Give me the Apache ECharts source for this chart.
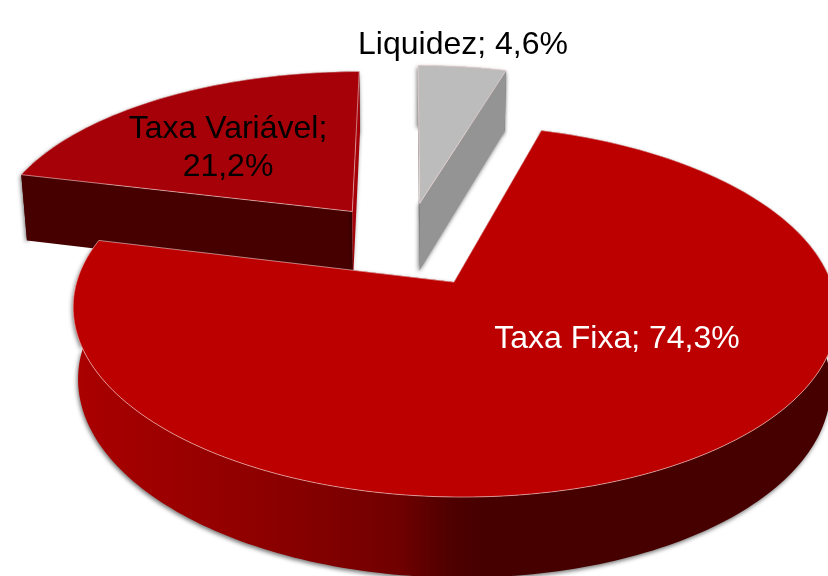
<!DOCTYPE html>
<html>
<head>
<meta charset="utf-8">
<style>
    html, body { margin: 0; padding: 0; background: #fff; }
    #chart { width: 828px; height: 576px; }
</style>
<script src="https://cdn.jsdelivr.net/npm/echarts@6/dist/echarts.min.js"></script>
</head>
<body>
<div id="chart"></div>
<script>
// slices in clockwise order starting at 12 o'clock
const categories = ['Liquidez', 'Taxa Fixa', 'Taxa Variável']
const shares = [4.6, 74.3, 21.2]

// projection of the tilted disc
const CX = 407, CY = 244
const RX = 365, RY = 170
const PERSPECTIVE = 0.15
const THICKNESS = 70
const BOTTOM_SHRINK = 0.015
const EXPLODE = 0.25

const wallFixa = () => new echarts.graphic.LinearGradient(75, 0, 480, 0, [
    { offset: 0, color: '#aa0000' },
    { offset: 0.43, color: '#900000' },
    { offset: 0.63, color: '#800000' },
    { offset: 0.8, color: '#700000' },
    { offset: 0.92, color: '#500000' },
    { offset: 1, color: '#470000' },
], true)

const looks = [
    { top: '#bcbcbc', wall: '#949494', faceStart: '#8c8c8c', faceEnd: '#949494', textColor: '#000', labelX: 463, labelY: 45 },
    { top: '#bc0000', wall: wallFixa(), faceStart: '#470000', faceEnd: '#470000', textColor: '#fff', labelX: 617, labelY: 339 },
    { top: '#a60008', wall: '#470000', faceStart: '#470000', faceEnd: '#a60008', textColor: '#000', labelX: 228, labelY: 148 },
]

const total = shares.reduce((a, b) => a + b, 0)
const toRad = share => share / total * Math.PI * 2

const project = (x, y, down) => {
    const w = (1 + PERSPECTIVE * y) * (1 + (down ? BOTTOM_SHRINK : 0))
    return [
        CX + RX * x / w,
        CY - RY * y / w + (down ? THICKNESS / w : 0),
    ]
}

const labelText = (name, share) => {
    const value = share.toFixed(1).replace('.', ',') + '%'
    return name === 'Taxa Variável' ? `${name};\n${value}` : `${name}; ${value}`
}

const renderSlice = (params, api) => {
    const i = params.dataIndex
    const share = api.value(0)
    const start = toRad(shares.slice(0, i).reduce((a, b) => a + b, 0))
    const end = start + toRad(share)
    const mid = (start + end) / 2
    const ox = Math.sin(mid) * EXPLODE
    const oy = Math.cos(mid) * EXPLODE
    const look = looks[i]

    // nearer slices paint over farther ones
    const depth = Math.round(-oy * 100) * 10

    const arc = down => {
        const pts = []
        const steps = Math.ceil((end - start) / 0.02)
        for (let s = 0; s <= steps; s++) {
            const t = start + (end - start) * s / steps
            pts.push(project(ox + Math.sin(t), oy + Math.cos(t), down))
        }
        return pts
    }
    const topArc = arc(false)
    const bottomArc = arc(true)
    const apexTop = project(ox, oy, false)
    const apexBottom = project(ox, oy, true)
    const shadow = {
        shadowBlur: 4,
        shadowColor: 'rgba(0,0,0,0.55)',
        shadowOffsetX: -1,
        shadowOffsetY: 2,
    }

    return {
        type: 'group',
        children: [
            {
                type: 'polygon',
                z2: depth,
                shape: { points: topArc.concat(bottomArc.slice().reverse()) },
                style: { fill: look.wall, ...shadow },
            },
            {
                type: 'polygon',
                z2: depth + 1,
                shape: { points: [apexTop, topArc[0], bottomArc[0], apexBottom] },
                style: { fill: look.faceStart },
            },
            {
                type: 'polygon',
                z2: depth + 1,
                shape: { points: [apexTop, topArc[topArc.length - 1], bottomArc[bottomArc.length - 1], apexBottom] },
                style: { fill: look.faceEnd, ...shadow },
            },
            {
                type: 'polygon',
                z2: depth + 2,
                shape: { points: [apexTop].concat(topArc) },
                style: { fill: look.top, stroke: 'rgba(255,225,225,0.7)', lineWidth: 0.8 },
            },
            {
                type: 'text',
                z2: 1000,
                style: {
                    text: labelText(categories[i], share),
                    x: look.labelX,
                    y: look.labelY,
                    align: 'center',
                    verticalAlign: 'middle',
                    fill: look.textColor,
                    font: '32px "Liberation Sans", Arial, sans-serif',
                    lineHeight: 38,
                },
            },
        ],
    }
}

const chart = echarts.init(document.getElementById('chart'))
chart.setOption({
    animation: false,
    backgroundColor: '#fff',
    series: [
        {
            type: 'custom',
            coordinateSystem: 'none',
            renderItem: renderSlice,
            silent: true,
            clip: false,
            data: shares.map((share, i) => ({ name: categories[i], value: [share] })),
        },
    ],
})
</script>
</body>
</html>
